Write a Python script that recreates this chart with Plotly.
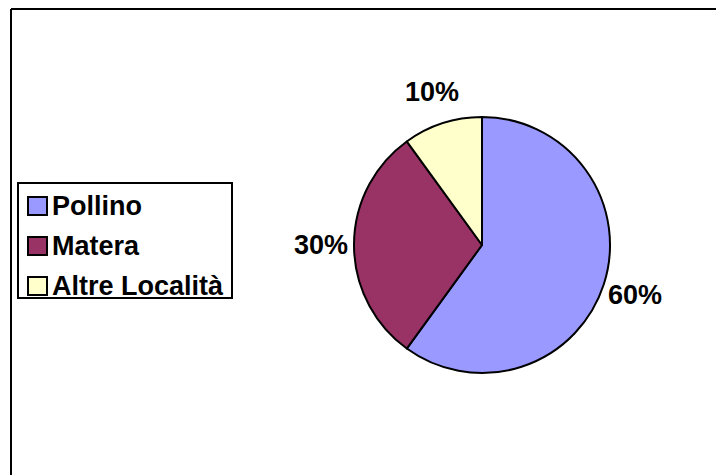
import math
import plotly.graph_objects as go

# Share of records by locality
categories = ["Pollino", "Matera", "Altre Località"]
values = [60, 30, 10]
colors = ["#9999FF", "#993366", "#FFFFCC"]

W, H = 716, 475
CX, CY, R = 482, 245, 128  # pie centre and radius in pixels
LABEL_DIST = 161           # distance of the percentage labels from the centre
FONT = dict(family="Liberation Sans, Arial", size=27, color="black", weight="bold")

# Legend box geometry (pixels)
LEG_X0, LEG_Y0, LEG_X1, LEG_Y1 = 18, 183, 232, 298
ROW_Y0, ROW_STEP = 206, 40
SW_X0, SW_W, SW_H = 28, 19, 18
TEXT_X = 50


def px_x(x):
    return x / W


def px_y(y):
    return 1 - y / H


fig = go.Figure(
    go.Pie(
        labels=categories,
        values=values,
        marker=dict(colors=colors, line=dict(color="black", width=2)),
        sort=False,
        direction="clockwise",
        rotation=0,
        textinfo="none",
        hoverinfo="label+percent",
        showlegend=False,
        domain=dict(x=[px_x(CX - R), px_x(CX + R)], y=[px_y(CY + R), px_y(CY - R)]),
    )
)

# Percentage labels placed outside each slice, along its mid angle
total = sum(values)
annotations = []
cum = 0
for v in values:
    mid = (cum + v / 2) / total * 2 * math.pi
    cum += v
    lx = CX + LABEL_DIST * math.sin(mid)
    ly = CY - LABEL_DIST * math.cos(mid)
    annotations.append(
        dict(
            x=px_x(lx), y=px_y(ly), xref="paper", yref="paper",
            text=f"{round(v / total * 100)}%", showarrow=False,
            xanchor="center", yanchor="middle", font=FONT,
        )
    )

# Frame lines along the top and left of the chart area
shapes = [
    dict(type="line", xref="paper", yref="paper", x0=px_x(11), y0=px_y(9), x1=1.02, y1=px_y(9),
         line=dict(color="black", width=2)),
    dict(type="line", xref="paper", yref="paper", x0=px_x(11), y0=px_y(9), x1=px_x(11), y1=-0.02,
         line=dict(color="black", width=2)),
    # legend frame
    dict(type="rect", xref="paper", yref="paper",
         x0=px_x(LEG_X0), y0=px_y(LEG_Y1), x1=px_x(LEG_X1), y1=px_y(LEG_Y0),
         line=dict(color="black", width=2), fillcolor="white"),
]

# Legend entries: colour swatch + category name
for i, (name, col) in enumerate(zip(categories, colors)):
    cy = ROW_Y0 + i * ROW_STEP
    shapes.append(
        dict(type="rect", xref="paper", yref="paper",
             x0=px_x(SW_X0), x1=px_x(SW_X0 + SW_W),
             y0=px_y(cy + SW_H / 2), y1=px_y(cy - SW_H / 2),
             line=dict(color="black", width=2), fillcolor=col)
    )
    annotations.append(
        dict(x=px_x(TEXT_X), y=px_y(cy), xref="paper", yref="paper",
             text=name, showarrow=False, xanchor="left", yanchor="middle", font=FONT)
    )

fig.update_layout(
    width=W, height=H,
    margin=dict(l=0, r=0, t=0, b=0),
    paper_bgcolor="white",
    plot_bgcolor="white",
    font=FONT,
    showlegend=False,
    annotations=annotations,
    shapes=shapes,
)

fig.write_html("out.html")
